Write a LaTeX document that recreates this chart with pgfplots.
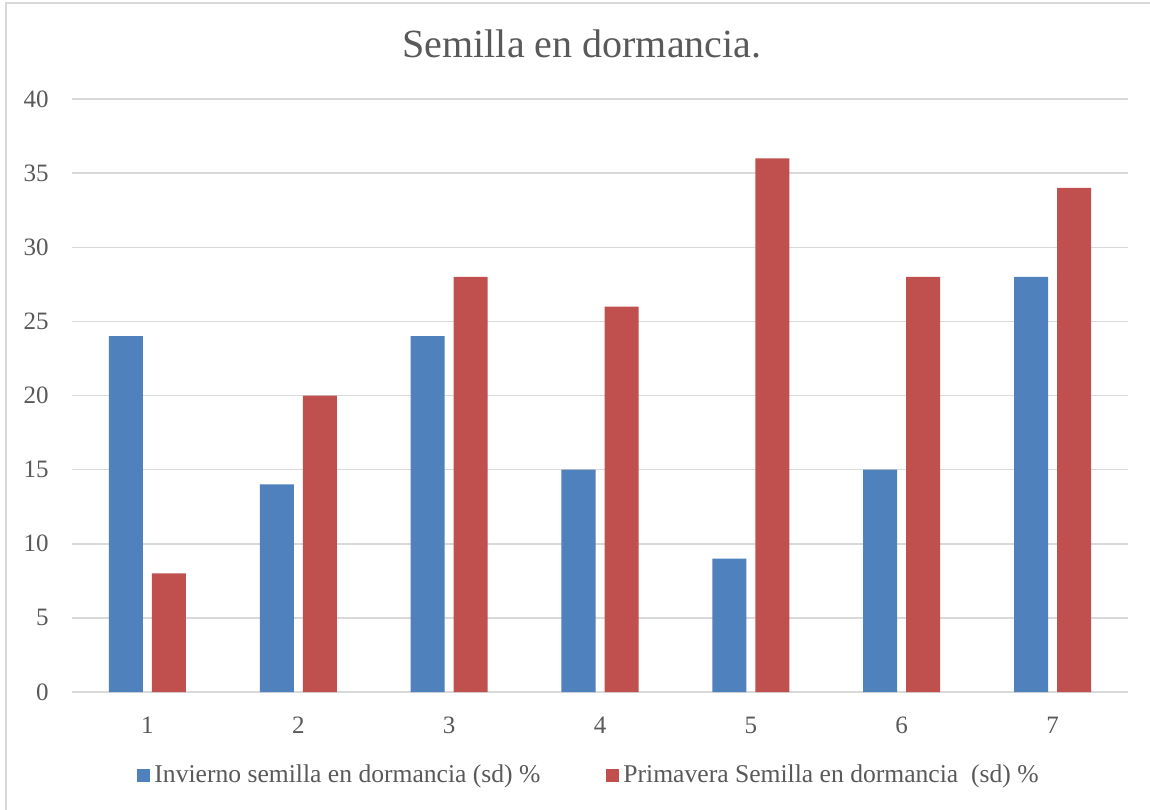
\documentclass[border=0pt]{standalone}
\usepackage{fontspec}
\setmainfont{Liberation Serif}
\usepackage{pgfplots}
\pgfplotsset{compat=1.18}
\definecolor{invierno}{HTML}{4F81BD}
\definecolor{primavera}{HTML}{C0504D}
\definecolor{gridgray}{HTML}{D9D9D9}
\definecolor{textgray}{HTML}{595959}

\begin{document}
\begin{tikzpicture}
\useasboundingbox (0,0) rectangle (575pt,404.5pt);
\fill[white] (0,0) rectangle (575pt,404.5pt);
% chart frame
\draw[gridgray, line width=1pt] (3pt,-1pt) -- (3pt,403pt) -- (576pt,403pt);
% title
\node[textgray, font=\fontsize{20}{24}\selectfont, anchor=base, inner sep=0pt]
  at (291pt,375.5pt) {Semilla en dormancia.};
\begin{axis}[
  at={(36pt,58.5pt)}, anchor=south west,
  scale only axis, width=528pt, height=296.5pt,
  xmin=0.5, xmax=7.5, ymin=0, ymax=40,
  xtick={1,...,7}, ytick={0,5,...,40},
  ymajorgrids, major grid style={gridgray, line width=0.75pt},
  axis line style={draw=none},
  major tick length=0pt,
  ybar, bar width=17pt,
  tick label style={textgray, font=\fontsize{12.5}{15}\selectfont},
  /pgf/number format/assume math mode=true,
  yticklabel style={anchor=east, inner sep=0pt, xshift=-11.5pt},
  xticklabel style={anchor=north, inner sep=0pt, yshift=-12.5pt},
  legend style={draw=none, fill=none, at={(0.0616,-0.14)}, anchor=west,
    legend columns=2, font=\fontsize{12.8}{15}\selectfont, text=textgray,
    inner sep=0pt,
    /tikz/every even column/.append style={column sep=31pt}},
  legend cell align=left,
  legend image code/.code={\draw[#1, draw=none] (0pt,-3.25pt) rectangle (6.5pt,3.25pt);},
]
\addplot[fill=invierno, draw=none, bar shift=-10.75pt]
  coordinates {(1,24) (2,14) (3,24) (4,15) (5,9) (6,15) (7,28)};
\addplot[fill=primavera, draw=none, bar shift=10.75pt]
  coordinates {(1,8) (2,20) (3,28) (4,26) (5,36) (6,28) (7,34)};
\legend{Invierno semilla en dormancia (sd) \%, Primavera Semilla en dormancia\ \ (sd) \%}
\end{axis}
\end{tikzpicture}
\end{document}
